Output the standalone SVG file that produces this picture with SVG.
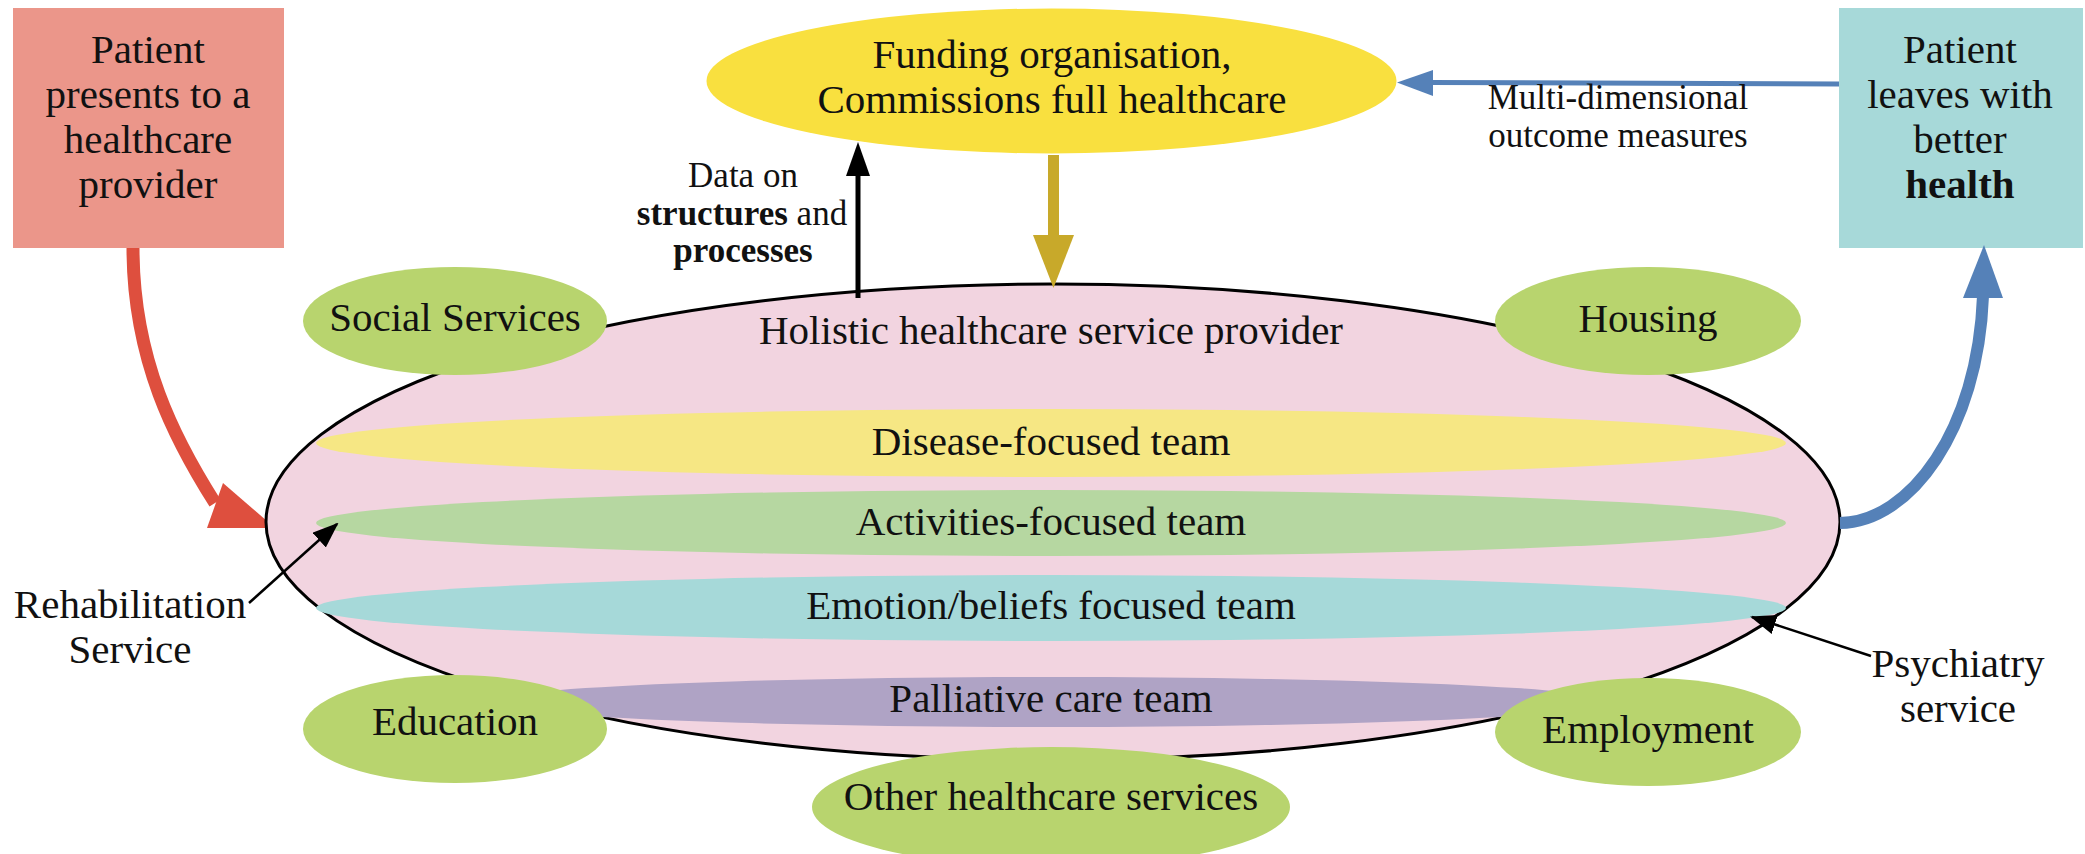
<svg xmlns="http://www.w3.org/2000/svg" width="2085" height="854" viewBox="0 0 2085 854">
<style>
text{font-family:"Liberation Serif","Times New Roman",serif;fill:#111;text-anchor:middle}
.m{font-size:41px}
.s{font-size:35px}
.b{font-weight:bold}
.green{fill:#B8D46E}
.band{stroke:none}
</style>
<defs>
<marker id="ah" markerUnits="userSpaceOnUse" markerWidth="26" markerHeight="22" refX="24" refY="10" orient="auto">
<path d="M0,0 L26,10 L0,20 Z" fill="#000"/>
</marker>
</defs>
<rect width="2085" height="854" fill="#fff"/>

<g id="connectors-under">
<path d="M133,248 C133,360 175,440 215,503" fill="none" stroke="#DE4F3E" stroke-width="13"/>
<polygon points="223,483 207,528 275,528" fill="#DE4F3E"/>
</g>

<g id="holistic">
<ellipse cx="1053" cy="522" rx="787" ry="238" fill="#F2D4E0" stroke="#000" stroke-width="3"/>
<text class="m" x="1051" y="344">Holistic healthcare service provider</text>
</g>
<g id="disease">
<ellipse class="band" cx="1051" cy="443" rx="735" ry="34" fill="#F6E784"/>
<text class="m" x="1051" y="455">Disease-focused team</text>
</g>
<g id="activities">
<ellipse class="band" cx="1051" cy="523" rx="735" ry="33" fill="#B6D7A1"/>
<text class="m" x="1051" y="535">Activities-focused team</text>
</g>
<g id="emotion">
<ellipse class="band" cx="1051" cy="608" rx="735" ry="33" fill="#A6D9D9"/>
<text class="m" x="1051" y="619">Emotion/beliefs focused team</text>
</g>
<g id="palliative">
<ellipse class="band" cx="1051" cy="702" rx="560" ry="25" fill="#AFA3C5"/>
<text class="m" x="1051" y="712">Palliative care team</text>
</g>

<g id="social">
<ellipse class="green" cx="455" cy="321" rx="152" ry="54"/>
<text class="m" x="455" y="331">Social Services</text>
</g>
<g id="housing">
<ellipse class="green" cx="1648" cy="321" rx="153" ry="54"/>
<text class="m" x="1648" y="332">Housing</text>
</g>
<g id="education">
<ellipse class="green" cx="455" cy="729" rx="152" ry="54"/>
<text class="m" x="455" y="735">Education</text>
</g>
<g id="employment">
<ellipse class="green" cx="1648" cy="732" rx="153" ry="54"/>
<text class="m" x="1648" y="743">Employment</text>
</g>
<g id="other">
<ellipse class="green" cx="1051" cy="807" rx="239" ry="60"/>
<text class="m" x="1051" y="810">Other healthcare services</text>
</g>

<g id="patient-in">
<rect x="13" y="8" width="271" height="240" fill="#EB968A"/>
<text class="m" x="148" y="63">Patient</text>
<text class="m" x="148" y="108">presents to a</text>
<text class="m" x="148" y="153">healthcare</text>
<text class="m" x="148" y="198">provider</text>
</g>

<g id="funding">
<ellipse cx="1051.5" cy="81" rx="345" ry="72.5" fill="#F9E03F"/>
<text class="m" x="1052" y="68">Funding organisation,</text>
<text class="m" x="1052" y="113">Commissions full healthcare</text>
</g>

<g id="patient-out">
<rect x="1839" y="8" width="244" height="240" fill="#A7D9D9"/>
<text class="m" x="1960" y="63">Patient</text>
<text class="m" x="1960" y="108">leaves with</text>
<text class="m" x="1960" y="153">better</text>
<text class="m b" x="1960" y="198">health</text>
</g>

<g id="connectors">
<line x1="858" y1="298" x2="858" y2="174" stroke="#000" stroke-width="5"/>
<polygon points="846,176 870,176 858,142" fill="#000"/>
<line x1="1053.5" y1="155" x2="1053.5" y2="237" stroke="#C8A92A" stroke-width="11"/>
<polygon points="1033,235 1074,235 1053.5,288" fill="#C8A92A"/>
<line x1="1839" y1="84" x2="1430" y2="82.5" stroke="#5581B8" stroke-width="5"/>
<polygon points="1433,70 1433,96 1397,82.5" fill="#5581B8"/>
<path d="M1840,523 C1910,522 1978,430 1983,296" fill="none" stroke="#5581B8" stroke-width="12"/>
<polygon points="1963,298 2003,298 1984,245" fill="#5581B8"/>
<line x1="249" y1="603" x2="337" y2="524" stroke="#000" stroke-width="2.5" marker-end="url(#ah)"/>
<line x1="1871" y1="656" x2="1752" y2="617" stroke="#000" stroke-width="2.5" marker-end="url(#ah)"/>
</g>

<g id="labels">
<text class="s" x="743" y="187">Data on</text>
<text class="s" x="742" y="225"><tspan class="b">structures</tspan> and</text>
<text class="s b" x="743" y="262">processes</text>
<text class="s" x="1618" y="109">Multi-dimensional</text>
<text class="s" x="1618" y="147">outcome measures</text>
<text class="m" x="130" y="618">Rehabilitation</text>
<text class="m" x="130" y="663">Service</text>
<text class="m" x="1958" y="677">Psychiatry</text>
<text class="m" x="1958" y="722">service</text>
</g>
</svg>
